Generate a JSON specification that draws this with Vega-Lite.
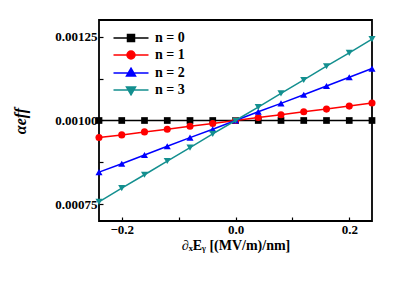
{
  "$schema": "https://vega.github.io/schema/vega-lite/v6.json",
  "width": 273,
  "height": 201,
  "autosize": {"type": "none"},
  "padding": {"left": 99, "top": 20, "right": 27, "bottom": 61},
  "background": "white",
  "config": {
    "view": {"stroke": "black", "strokeWidth": 1.8},
    "font": "Liberation Serif",
    "axis": {
      "domain": false,
      "grid": false,
      "tickColor": "black",
      "tickWidth": 1.2,
      "labelFont": "Liberation Serif",
      "labelFontWeight": "bold",
      "labelFontSize": 13,
      "labelColor": "black",
      "titleFont": "Liberation Serif",
      "titleFontWeight": "bold",
      "titleFontSize": 14,
      "titleColor": "black"
    },
    "legend": {
      "orient": "none",
      "legendX": 25,
      "legendY": 11,
      "padding": 0,
      "symbolSize": 100,
      "symbolOpacity": 1,
      "symbolStrokeWidth": 1.5,
      "labelOffset": 17,
      "labelFont": "Liberation Serif",
      "labelFontWeight": "bold",
      "labelFontSize": 14,
      "labelColor": "black",
      "rowPadding": 3
    }
  },
  "data": {
    "values": [
      {"x": -0.24, "a": 0.001, "series": "n = 0"},
      {"x": -0.2, "a": 0.001, "series": "n = 0"},
      {"x": -0.16, "a": 0.001, "series": "n = 0"},
      {"x": -0.12, "a": 0.001, "series": "n = 0"},
      {"x": -0.08, "a": 0.001, "series": "n = 0"},
      {"x": -0.04, "a": 0.001, "series": "n = 0"},
      {"x": 0.0, "a": 0.001, "series": "n = 0"},
      {"x": 0.04, "a": 0.001, "series": "n = 0"},
      {"x": 0.08, "a": 0.001, "series": "n = 0"},
      {"x": 0.12, "a": 0.001, "series": "n = 0"},
      {"x": 0.16, "a": 0.001, "series": "n = 0"},
      {"x": 0.2, "a": 0.001, "series": "n = 0"},
      {"x": 0.24, "a": 0.001, "series": "n = 0"},
      {"x": -0.24, "a": 0.000949, "series": "n = 1"},
      {"x": -0.2, "a": 0.000957, "series": "n = 1"},
      {"x": -0.16, "a": 0.000966, "series": "n = 1"},
      {"x": -0.12, "a": 0.000974, "series": "n = 1"},
      {"x": -0.08, "a": 0.000983, "series": "n = 1"},
      {"x": -0.04, "a": 0.000991, "series": "n = 1"},
      {"x": 0.0, "a": 0.001, "series": "n = 1"},
      {"x": 0.04, "a": 0.001009, "series": "n = 1"},
      {"x": 0.08, "a": 0.001017, "series": "n = 1"},
      {"x": 0.12, "a": 0.001026, "series": "n = 1"},
      {"x": 0.16, "a": 0.001034, "series": "n = 1"},
      {"x": 0.2, "a": 0.001043, "series": "n = 1"},
      {"x": 0.24, "a": 0.001052, "series": "n = 1"},
      {"x": -0.24, "a": 0.000846, "series": "n = 2"},
      {"x": -0.2, "a": 0.000871, "series": "n = 2"},
      {"x": -0.16, "a": 0.000897, "series": "n = 2"},
      {"x": -0.12, "a": 0.000923, "series": "n = 2"},
      {"x": -0.08, "a": 0.000949, "series": "n = 2"},
      {"x": -0.04, "a": 0.000974, "series": "n = 2"},
      {"x": 0.0, "a": 0.001, "series": "n = 2"},
      {"x": 0.04, "a": 0.001026, "series": "n = 2"},
      {"x": 0.08, "a": 0.001051, "series": "n = 2"},
      {"x": 0.12, "a": 0.001077, "series": "n = 2"},
      {"x": 0.16, "a": 0.001103, "series": "n = 2"},
      {"x": 0.2, "a": 0.001129, "series": "n = 2"},
      {"x": 0.24, "a": 0.001155, "series": "n = 2"},
      {"x": -0.24, "a": 0.000757, "series": "n = 3"},
      {"x": -0.2, "a": 0.000798, "series": "n = 3"},
      {"x": -0.16, "a": 0.000838, "series": "n = 3"},
      {"x": -0.12, "a": 0.000879, "series": "n = 3"},
      {"x": -0.08, "a": 0.000919, "series": "n = 3"},
      {"x": -0.04, "a": 0.00096, "series": "n = 3"},
      {"x": 0.0, "a": 0.001, "series": "n = 3"},
      {"x": 0.04, "a": 0.00104, "series": "n = 3"},
      {"x": 0.08, "a": 0.001081, "series": "n = 3"},
      {"x": 0.12, "a": 0.001121, "series": "n = 3"},
      {"x": 0.16, "a": 0.001162, "series": "n = 3"},
      {"x": 0.2, "a": 0.001202, "series": "n = 3"},
      {"x": 0.24, "a": 0.001243, "series": "n = 3"}
    ]
  },
  "encoding": {
    "x": {
      "field": "x", "type": "quantitative",
      "scale": {"domain": [-0.24, 0.24], "nice": false, "zero": false},
      "axis": {
        "values": [-0.2, -0.1, 0, 0.1, 0.2],
        "labelExpr": "abs(datum.value) == 0.1 ? '' : format(datum.value, '.1f')",
        "tickSize": -4,
        "labelPadding": 6,
        "title": "∂ₓEᵧ [(MV/m)/nm]",
        "titlePadding": 2
      }
    },
    "y": {
      "field": "a", "type": "quantitative",
      "scale": {"domain": [0.0007, 0.0013], "nice": false, "zero": false},
      "axis": {
        "values": [0.00075, 0.000875, 0.001, 0.001125, 0.00125],
        "labelExpr": "(datum.value == 0.000875 || datum.value == 0.001125) ? '' : format(datum.value, '.5f')",
        "tickSize": -4,
        "labelPadding": 6,
        "title": "αeff",
        "titleFontStyle": "italic",
        "titleFontSize": 16,
        "titlePadding": 26
      }
    }
  },
  "layer": [
    {
      "transform": [{"filter": "datum.series == 'n = 0'"}],
      "mark": {"type": "line", "strokeWidth": 1.5, "color": "#000000", "point": {"filled": true, "size": 45, "shape": "square", "color": "#000000"}}
    },
    {
      "transform": [{"filter": "datum.series == 'n = 1'"}],
      "mark": {"type": "line", "strokeWidth": 1.5, "color": "#ff0000", "point": {"filled": true, "size": 50, "shape": "circle", "color": "#ff0000"}}
    },
    {
      "transform": [{"filter": "datum.series == 'n = 2'"}],
      "mark": {"type": "line", "strokeWidth": 1.5, "color": "#0000ff", "point": {"filled": true, "size": 50, "shape": "triangle-up", "color": "#0000ff"}}
    },
    {
      "transform": [{"filter": "datum.series == 'n = 3'"}],
      "mark": {"type": "line", "strokeWidth": 1.5, "color": "#138f8f", "point": {"filled": true, "size": 50, "shape": "triangle-down", "color": "#138f8f"}}
    },
    {
      "mark": {"type": "point", "filled": true, "size": 0, "strokeWidth": 1.5},
      "encoding": {
        "fill": {
          "field": "series", "type": "nominal",
          "scale": {"domain": ["n = 0", "n = 1", "n = 2", "n = 3"], "range": ["#000000", "#ff0000", "#0000ff", "#138f8f"]},
          "legend": {"title": null, "orient": "none", "legendX": 25, "legendY": 11}
        },
        "stroke": {
          "field": "series", "type": "nominal",
          "scale": {"domain": ["n = 0", "n = 1", "n = 2", "n = 3"], "range": ["#000000", "#ff0000", "#0000ff", "#138f8f"]},
          "legend": {"title": null, "orient": "none", "legendX": 25, "legendY": 11}
        },
        "shape": {
          "field": "series", "type": "nominal",
          "scale": {"domain": ["n = 0", "n = 1", "n = 2", "n = 3"], "range": [
            "M-3.5,0H3.5M-0.7,-0.7H0.7V0.7H-0.7Z",
            "M-3.5,0H3.5M0.8,0A0.8,0.8,0,1,1,-0.8,0A0.8,0.8,0,1,1,0.8,0Z",
            "M-3.5,0H3.5M0,-0.95L0.9,0.6L-0.9,0.6Z",
            "M-3.5,0H3.5M0,0.95L0.9,-0.6L-0.9,-0.6Z"
          ]},
          "legend": {"title": null, "orient": "none", "legendX": 25, "legendY": 11}
        }
      }
    }
  ]
}
